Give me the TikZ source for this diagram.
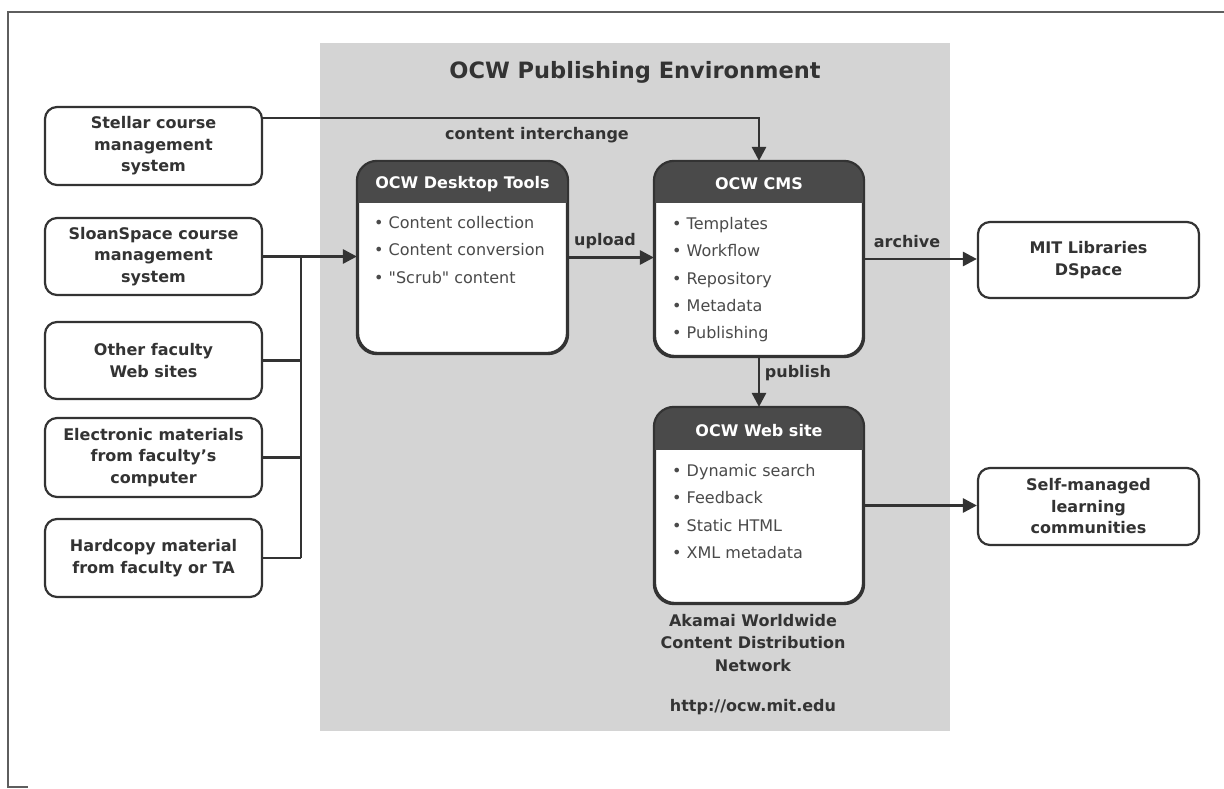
\documentclass[tikz,border=0pt]{standalone}
\usepackage{fontspec}
\defaultfontfeatures{}
\setmainfont{DejaVu Sans}[Mapping=,Ligatures=ResetAll]
\usetikzlibrary{arrows.meta,calc}
\definecolor{panel}{HTML}{D4D4D4}
\definecolor{ink}{HTML}{333333}
\definecolor{hdr}{HTML}{4A4A4A}
\definecolor{itemc}{HTML}{4A4A4A}
\definecolor{framec}{HTML}{5E5E5E}
\begin{document}
\begin{tikzpicture}[x=1pt,y=-1pt,
  srcbox/.style={draw=ink,line width=2.2pt,rounded corners=12pt,fill=white,
    minimum width=217pt,align=center,text=ink,inner sep=0pt,
    font=\fontsize{16}{21.5}\selectfont\bfseries},
  bigbox/.style={draw=ink,line width=2.2pt,rounded corners=20pt,fill=white,
    minimum width=208pt,inner sep=0pt},
  hdrtext/.style={text=white,font=\fontsize{16}{20}\selectfont\bfseries,inner sep=0pt},
  items/.style={text=itemc,align=left,inner sep=0pt,anchor=north west,
    font=\fontsize{16}{27.4}\selectfont},
  lbl/.style={text=ink,inner sep=0pt,font=\fontsize{16}{20}\selectfont\bfseries},
  conn/.style={draw=ink,line width=2.8pt},
  arr/.style={conn,-{Triangle[length=14pt,width=14pt]}},
]
\useasboundingbox (0,0) rectangle (1224,789);
\fill[white] (0,0) rectangle (1224,789);
% page frame
\draw[framec,line width=2.5pt] (1224,12) -- (8,12) -- (8,787) -- (28,787);
% panel
\fill[panel] (320,43) rectangle (950,731);
\node[lbl,font=\fontsize{22.5}{26}\selectfont\bfseries] (title) at (635,72) {OCW Publishing Environment};

% source boxes
\node[srcbox,minimum height=78pt] (stellar) at (153.5,146) {Stellar course\\management\\system};
\node[srcbox,minimum height=77pt] (sloan) at (153.5,256.5) {SloanSpace course\\management\\system};
\node[srcbox,minimum height=77pt] (other) at (153.5,360.5) {Other faculty\\Web sites};
\node[srcbox,minimum height=79pt] (elec) at (153.5,457.5) {Electronic materials\\from faculty’s\\computer};
\node[srcbox,minimum height=78pt] (hard) at (153.5,558) {Hardcopy material\\from faculty or TA};

% right boxes
\node[srcbox,minimum width=221pt,minimum height=76pt] (mit) at (1088.5,260) {MIT Libraries\\DSpace};
\node[srcbox,minimum width=221pt,minimum height=77pt] (self) at (1088.5,506.5) {Self-managed\\learning\\communities};

% Desktop tools
\node[bigbox,minimum width=209pt,minimum height=191pt] (desk) at (462.5,257.5) {};
\begin{scope}
\clip[rounded corners=20pt] (desk.north west) rectangle (desk.south east);
\fill[hdr] (desk.north west) rectangle ($(desk.north east)+(0,42)$);
\end{scope}
\draw[ink,line width=2.2pt,rounded corners=20pt] (desk.north west) rectangle (desk.south east);
\node[hdrtext] (deskt) at (462.5,184) {OCW Desktop Tools};
\node[items] (deski) at (374,216) {• Content collection\\• Content conversion\\• \textquotedbl Scrub\textquotedbl{} content};

% CMS
\node[bigbox,minimum height=194pt] (cms) at (759,259) {};
\begin{scope}
\clip[rounded corners=20pt] (cms.north west) rectangle (cms.south east);
\fill[hdr] (cms.north west) rectangle ($(cms.north east)+(0,42)$);
\end{scope}
\draw[ink,line width=2.2pt,rounded corners=20pt] (cms.north west) rectangle (cms.south east);
\node[hdrtext] (cmst) at (759,184) {OCW CMS};
\node[items] (cmsi) at (672,217) {• Templates\\• Workflow\\• Repository\\• Metadata\\• Publishing};

% Web site
\node[bigbox,minimum height=195pt] (web) at (759,505.5) {};
\begin{scope}
\clip[rounded corners=20pt] (web.north west) rectangle (web.south east);
\fill[hdr] (web.north west) rectangle ($(web.north east)+(0,43)$);
\end{scope}
\draw[ink,line width=2.2pt,rounded corners=20pt] (web.north west) rectangle (web.south east);
\node[hdrtext] (webt) at (759,431) {OCW Web site};
\node[items] (webi) at (672,464) {• Dynamic search\\• Feedback\\• Static HTML\\• XML metadata};

\node[lbl,align=center,font=\fontsize{16}{22.5}\selectfont\bfseries] (akamai) at (753,643) {Akamai Worldwide\\Content Distribution\\Network};
\node[lbl] (url) at (753,707) {http://ocw.mit.edu};

% connectors
\coordinate (bus) at (301,0);
\draw[arr] ([yshift=28pt]stellar.east) -| (cms.north);
\node[lbl] (lci) at (537,135) {content interchange};
\draw[arr] (sloan.east) -- (sloan.east -| desk.west);
\draw[conn] (sloan.east -| bus) -- (hard.east -| bus);
\draw[conn] (other.east) -- (other.east -| bus);
\draw[conn] (elec.east) -- (elec.east -| bus);
\draw[conn] (hard.east) -- (hard.east -| bus);
\draw[arr] (desk.east) -- (desk.east -| cms.west);
\node[lbl] (lup) at (605,241) {upload};
\draw[arr] (cms.east) -- (cms.east -| mit.west);
\node[lbl] (lar) at (907,242) {archive};
\draw[arr] (cms.south) -- (web.north);
\node[lbl] (lpu) at (798,373) {publish};
\draw[arr] (web.east) -- (web.east -| self.west);
\end{tikzpicture}
\end{document}
